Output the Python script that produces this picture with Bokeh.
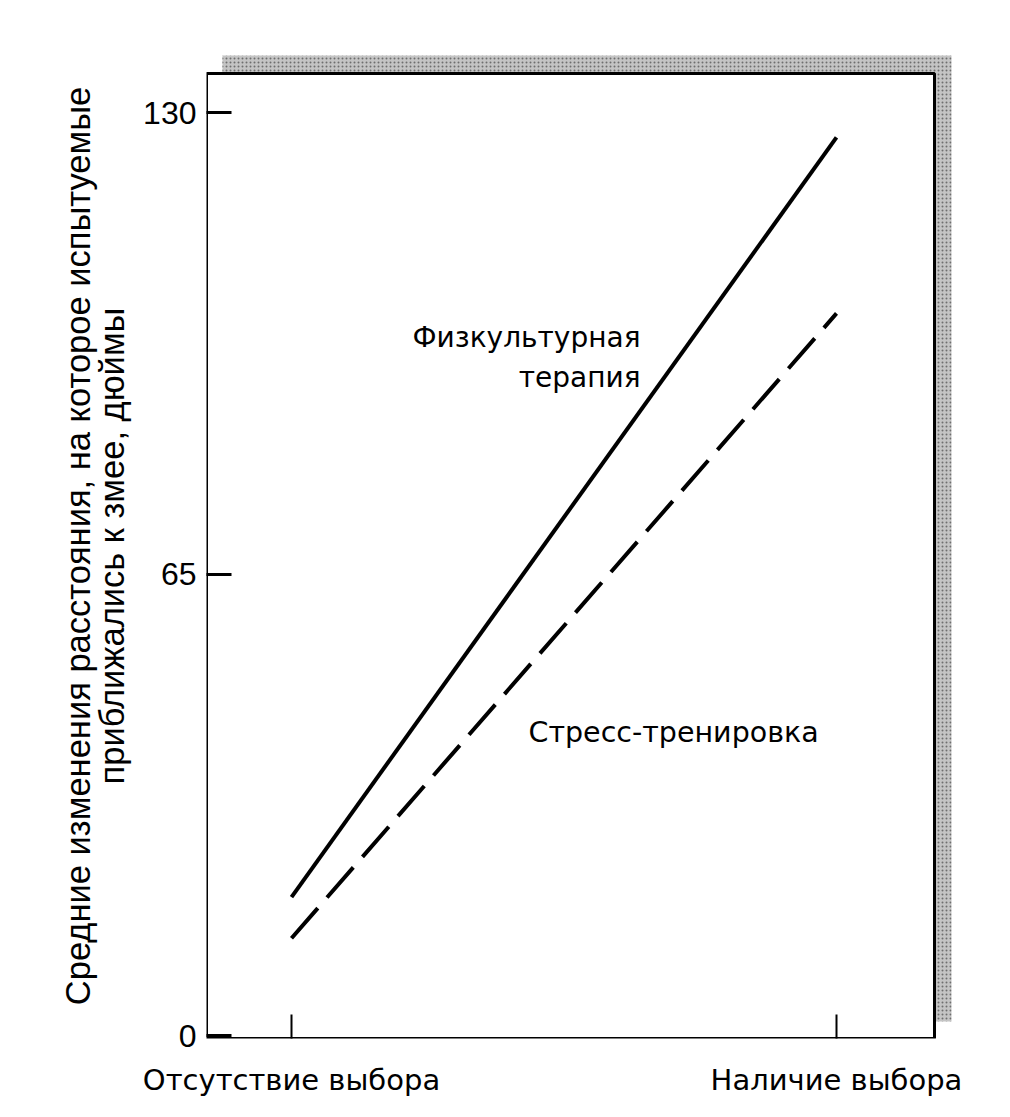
from bokeh.plotting import figure
from bokeh.models import (Range1d, FixedTicker, BoxAnnotation, Label,
                          ColumnDataSource, LinearAxis)
from bokeh.embed import file_html
from bokeh.resources import INLINE

# ---- data ----
conditions = ["Отсутствие выбора", "Наличие выбора"]
cond_pos = [0, 1]
exercise_therapy = [19.5, 126.5]   # Физкультурная терапия (solid)
stress_training = [13.7, 101.7]    # Стресс-тренировка (dashed)
y_ticks = [0, 65, 130]
y_label_lines = ["Средние изменения расстояния, на которое испытуемые",
                 "приближались к змее, дюймы"]
exercise_label = ["Физкультурная", "терапия"]
stress_label = "Стресс-тренировка"

# ---- layout (page pixels) ----
W, H, M = 990, 1100, 0
FRAME_L, FRAME_R, FRAME_T, FRAME_B = 206, 954, 53, 1038
X0_PX, X1_PX = 291, 836
Y0_PX, Y130_PX = 1035, 112


def xd(px):
    return (px - X0_PX) / (X1_PX - X0_PX)


def yd(py):
    return (Y0_PX - py) / (Y0_PX - Y130_PX) * 130.0


p = figure(width=W, height=H,
           x_range=Range1d(xd(FRAME_L), xd(FRAME_R)),
           y_range=Range1d(yd(FRAME_B), yd(FRAME_T)),
           output_backend="svg", toolbar_location=None,
           min_border_left=FRAME_L - M, min_border_right=W - (FRAME_R - M),
           min_border_top=FRAME_T - M, min_border_bottom=H - (FRAME_B - M))
p.outline_line_color = None
p.grid.visible = False
p.background_fill_color = "white"
p.border_fill_color = "white"

# shadow box and plot box
shadow = BoxAnnotation(left=xd(222), right=xd(951), top=yd(55), bottom=yd(1021),
                       fill_color="#c4c4c4", fill_alpha=1.0, line_color=None,
                       hatch_pattern="dot", hatch_color="#6e6e6e", hatch_scale=4,
                       hatch_weight=1.2, hatch_alpha=1.0, level="underlay")
box = BoxAnnotation(left=xd(FRAME_L), right=xd(934), top=yd(73), bottom=yd(FRAME_B),
                    fill_color="white", fill_alpha=1.0, line_color="black",
                    line_alpha=1.0, line_width=3, level="underlay")
p.add_layout(shadow)
p.add_layout(box)

LABEL_FONT = "Liberation Sans"
LABEL_SIZE = "34.5px"

# y axis (ticks + second title line)
ya = p.yaxis[0]
ya.ticker = FixedTicker(ticks=y_ticks)
ya.axis_line_color = None
ya.major_tick_in = 25
ya.major_tick_out = 0
ya.major_tick_line_width = 3
ya.minor_tick_line_color = None
ya.major_label_standoff = 10
ya.major_label_text_font = "Liberation Sans"
ya.major_label_text_font_size = "32px"
ya.major_label_text_color = "black"
ya.axis_label = y_label_lines[1]
ya.axis_label_text_font = LABEL_FONT
ya.axis_label_text_font_size = LABEL_SIZE
ya.axis_label_text_font_style = "normal"
ya.axis_label_text_color = "black"
ya.axis_label_standoff = 9

# outer left axis carrying only the first title line
ya2 = LinearAxis(ticker=FixedTicker(ticks=[]), axis_line_color=None,
                 major_tick_line_color=None, minor_tick_line_color=None,
                 major_label_text_font_size="0px", major_label_standoff=0,
                 major_tick_in=0, major_tick_out=0,
                 axis_label=y_label_lines[0], axis_label_text_font=LABEL_FONT,
                 axis_label_text_font_size=LABEL_SIZE,
                 axis_label_text_font_style="normal",
                 axis_label_text_color="black", axis_label_standoff=-6)
p.add_layout(ya2, "left")

# x axis
xa = p.xaxis[0]
xa.ticker = FixedTicker(ticks=cond_pos)
xa.axis_line_color = None
xa.major_tick_in = 24
xa.major_tick_out = 0
xa.major_tick_line_width = 2
xa.minor_tick_line_color = None
xa.major_label_overrides = {pos: name for pos, name in zip(cond_pos, conditions)}
xa.major_label_text_font = "DejaVu Sans"
xa.major_label_text_font_size = "29px"
xa.major_label_text_color = "black"
xa.major_label_standoff = 24

# lines
src = ColumnDataSource(dict(x=cond_pos, ex=exercise_therapy, st=stress_training))
p.line("x", "ex", source=src, line_width=4, line_color="black")
p.line("x", "st", source=src, line_width=4, line_color="black", line_dash="40 14")

# series annotations
for txt, base in zip(exercise_label, [337, 377]):
    p.add_layout(Label(x=xd(640), y=yd(base), text=txt, text_align="right",
                       text_baseline="alphabetic", text_font="DejaVu Sans",
                       text_font_size="28px", text_color="black"))
p.add_layout(Label(x=xd(528), y=yd(732), text=stress_label, text_align="left",
                   text_baseline="alphabetic", text_font="DejaVu Sans",
                   text_font_size="28.5px", text_color="black"))

open("out.html", "w").write(file_html(p, INLINE))
